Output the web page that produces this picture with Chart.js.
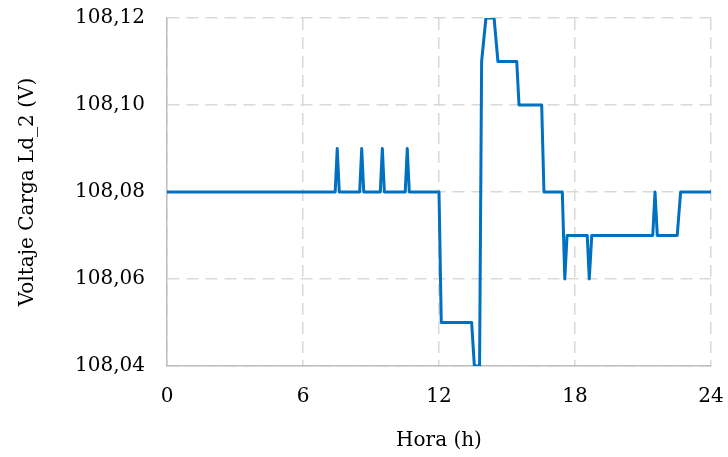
<!DOCTYPE html>
<html>
<head>
<meta charset="utf-8">
<script src="https://cdn.jsdelivr.net/npm/chart.js@4/dist/chart.umd.min.js"></script>
<style>
  html, body { margin: 0; padding: 0; background: #fff; }
  #wrap { width: 728px; height: 457px; }
</style>
</head>
<body>
<div id="wrap"><canvas id="grafico" width="728" height="457"></canvas></div>
<script>
// horas (h) de cada vertice de la curva
const horas = [0, 7.42, 7.51, 7.6, 8.5, 8.59, 8.68, 9.41, 9.5, 9.59, 10.51, 10.6, 10.69,
  12.0, 12.1, 13.44, 13.56, 13.79, 13.88, 14.07, 14.43, 14.6, 15.43, 15.53, 16.53, 16.63,
  17.44, 17.55, 17.65, 18.54, 18.63, 18.74, 21.43, 21.53, 21.63, 22.51, 22.66, 24];

// voltaje carga Ld_2 (V)
const voltaje = [108.08, 108.08, 108.09, 108.08, 108.08, 108.09, 108.08, 108.08, 108.09, 108.08, 108.08, 108.09, 108.08,
  108.08, 108.05, 108.05, 108.04, 108.04, 108.11, 108.12, 108.12, 108.11, 108.11, 108.10, 108.10, 108.08,
  108.08, 108.06, 108.07, 108.07, 108.06, 108.07, 108.07, 108.08, 108.07, 108.07, 108.08, 108.08];

const ticksX = [0, 6, 12, 18, 24];
const ticksY = [108.04, 108.06, 108.08, 108.10, 108.12];

const puntos = horas.map((h, i) => ({x: h, y: voltaje[i]}));

const fuente = {family: 'DejaVu Serif', size: 20};
const colorGrid = '#d9d9d9';
const colorEje = '#bfbfbf';

const ctx = document.getElementById('grafico').getContext('2d');

new Chart(ctx, {
  type: 'line',
  data: {
    datasets: [{
      data: puntos,
      borderColor: '#0070C0',
      borderWidth: 3,
      borderJoinStyle: 'round',
      pointRadius: 0,
      tension: 0,
      fill: false
    }]
  },
  options: {
    responsive: false,
    animation: false,
    layout: { padding: { left: 0, right: 17, top: 18, bottom: 0 } },
    plugins: {
      legend: { display: false },
      tooltip: { enabled: false }
    },
    scales: {
      x: {
        type: 'linear',
        min: 0,
        max: 24,
        afterBuildTicks: (scale) => { scale.ticks = ticksX.map(v => ({value: v})); },
        afterFit: (scale) => {
          scale.height = 91;
          scale.paddingLeft = 0;
          scale.paddingRight = 0;
        },
        ticks: { color: '#000', font: fuente, padding: 19 },
        grid: { color: colorGrid, lineWidth: 1.5, drawTicks: false },
        border: { display: true, color: colorEje, width: 1.5, dash: [12, 7] },
        title: {
          display: true,
          text: 'Hora (h)',
          color: '#000',
          font: fuente,
          padding: { top: 0, bottom: 4 }
        }
      },
      y: {
        type: 'linear',
        min: 108.04,
        max: 108.12,
        afterBuildTicks: (scale) => { scale.ticks = ticksY.map(v => ({value: v})); },
        afterFit: (scale) => {
          scale.width = 167;
          scale.paddingTop = 0;
          scale.paddingBottom = 0;
        },
        ticks: {
          color: '#000',
          font: fuente,
          padding: 22,
          callback: (v) => Number(v).toFixed(2).replace('.', ',')
        },
        grid: { color: colorGrid, lineWidth: 1.5, drawTicks: false },
        border: { display: true, color: colorEje, width: 1.5, dash: [12, 7] },
        title: {
          display: true,
          text: 'Voltaje Carga Ld_2 (V)',
          color: '#000',
          font: fuente,
          padding: { top: 16, bottom: 0 }
        }
      }
    }
  }
});
</script>
</body>
</html>
